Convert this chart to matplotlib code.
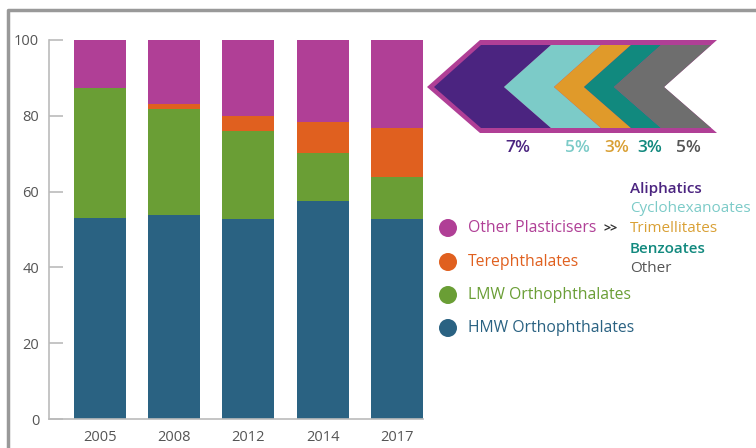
import matplotlib.pyplot as plt
import matplotlib.patches as mpatches
import numpy as np

plt.rcParams['font.family'] = ['Open Sans', 'DejaVu Sans']

# Data (percent share by year)
years = ['2005', '2008', '2012', '2014', '2017']
hmw = [53.1, 53.8, 52.9, 57.4, 52.9]
lmw = [34.2, 28.1, 23.0, 12.9, 10.9]
tere = [0.0, 1.2, 4.1, 8.0, 12.9]
other = [12.7, 16.9, 20.0, 21.7, 23.3]

series_names = ['HMW Orthophthalates', 'LMW Orthophthalates', 'Terephthalates', 'Other Plasticisers']
series_colors = ['#2A6282', '#6A9E35', '#E0601F', '#B03F96']

# breakdown of other plasticisers in 2017
sub_names = ['Aliphatics', 'Cyclohexanoates', 'Trimellitates', 'Benzoates', 'Other']
sub_pct = [7, 5, 3, 3, 5]
sub_colors = ['#4B2480', '#7CCBC8', '#E09A2A', '#11897E', '#6E6E6E']
sub_text_colors = ['#4B2480', '#7CCBC8', '#D9A035', '#11897E', '#555555']

fig = plt.figure(figsize=(7.56, 4.48), dpi=100)

ax = fig.add_axes([49/756, 1-419/448, 374/756, 379/448])
x = np.arange(len(years))
bottom = np.zeros(len(years))
for vals, c in zip([hmw, lmw, tere, other], series_colors):
    ax.bar(x, vals, 0.7, bottom=bottom, color=c)
    bottom += np.array(vals)

ax.set_xlim(-0.686, 4.35)
ax.set_ylim(0, 100)
ax.set_yticks([0, 20, 40, 60, 80, 100])
ax.set_xticks(x)
ax.set_xticklabels(years)
for s in ['top', 'right']:
    ax.spines[s].set_visible(False)
for s in ['left', 'bottom']:
    ax.spines[s].set_color('#BBBBBB')
    ax.spines[s].set_linewidth(1.2)
ax.tick_params(axis='y', direction='in', length=10, color='#BBBBBB', width=1.2,
               labelsize=10.5, labelcolor='#555555', pad=7)
ax.tick_params(axis='x', length=0, labelsize=10.5, labelcolor='#555555', pad=8)

# overlay in pixel coordinates for decorations
ov = fig.add_axes([0, 0, 1, 1], zorder=-1)
ov.set_xlim(0, 756)
ov.set_ylim(448, 0)
ov.axis('off')
ov.plot([8, 8, 756], [448, 10, 10], color='#999999', lw=2.5)

top = fig.add_axes([0, 0, 1, 1])
top.set_xlim(0, 756)
top.set_ylim(448, 0)
top.axis('off')

# chevron
ymid, ytop, ybot = 87, 40, 133
d = 53
outer = [(427, ymid), (427 + d, ytop), (717, ytop), (717 - d, ymid), (717, ybot), (427 + d, ybot)]
top.add_patch(mpatches.Polygon(outer, closed=True, color='#B03F96', lw=0))
yt, yb = 45, 128
di = 47
px_per = 10.0
xl = 434
for p, c in zip(sub_pct, sub_colors):
    xr = xl + p * px_per
    poly = [(xl, ymid), (xl + di, yt), (xr + di, yt), (xr, ymid), (xr + di, yb), (xl + di, yb)]
    top.add_patch(mpatches.Polygon(poly, closed=True, color=c, lw=0))
    xl = xr

label_x = [518, 577, 617, 650, 688]
for lx, p, c in zip(label_x, sub_pct, sub_text_colors):
    top.text(lx, 148, f'{p}%', color=c, fontsize=12.5, fontweight='semibold',
             ha='center', va='center')

# legend
leg_y = [228, 262, 295, 328]
for yy, name, c in zip(leg_y, series_names[::-1], series_colors[::-1]):
    top.add_patch(mpatches.Circle((448, yy), 9, color=c, lw=0))
    top.text(468, yy, name, color=c, fontsize=11.3, va='center', ha='left')
top.text(603, 229, '>>', color='#333333', fontsize=9, fontweight='bold', va='center', ha='left')

sub_y = [189, 209, 229, 249, 269]
weights = ['semibold', 'normal', 'normal', 'semibold', 'normal']
for yy, name, c, w in zip(sub_y, sub_names, sub_text_colors, weights):
    top.text(630, yy, name, color=c, fontsize=11, fontweight=w, va='center', ha='left')

fig.savefig('out.png', dpi=100)
